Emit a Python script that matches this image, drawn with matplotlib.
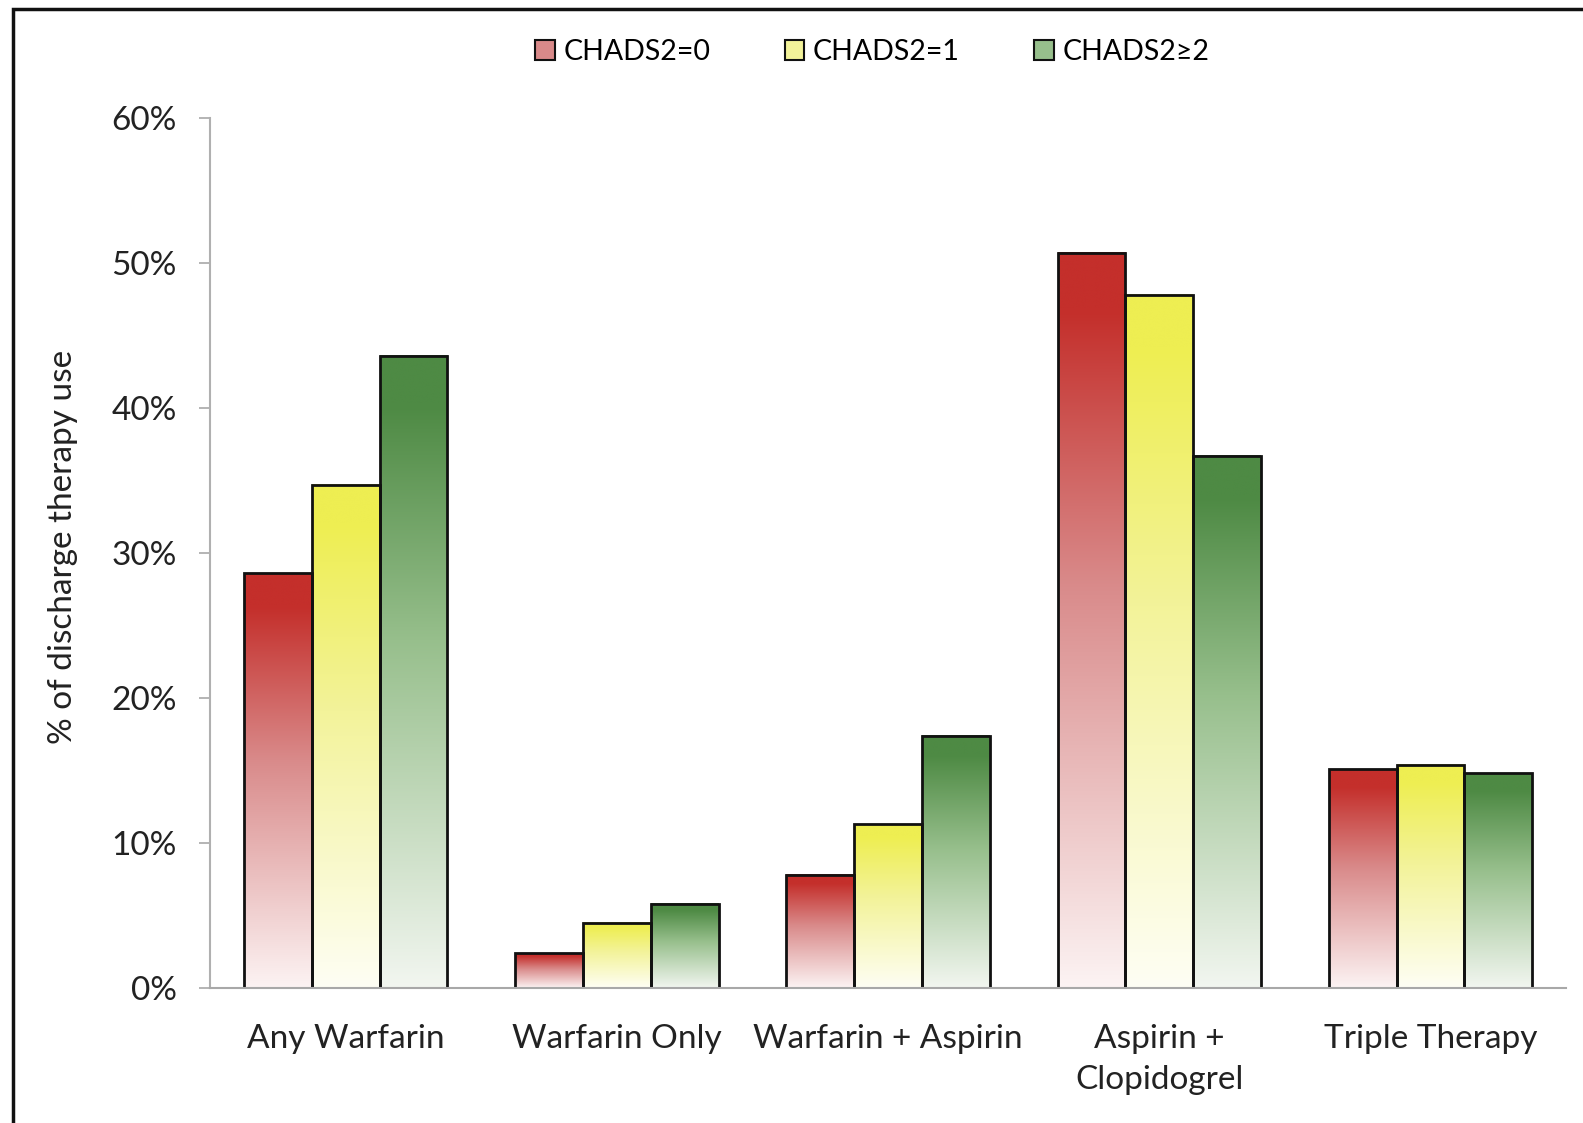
import numpy as np
import matplotlib
matplotlib.use("Agg")
from matplotlib import pyplot as plt
from matplotlib.colors import LinearSegmentedColormap
from matplotlib.patches import Patch, Rectangle

# therapy categories and % use per CHADS2 stratum
categories = ["Any Warfarin", "Warfarin Only", "Warfarin + Aspirin",
              "Aspirin +\nClopidogrel", "Triple Therapy"]
series_names = ["CHADS2=0", "CHADS2=1", "CHADS2\u22652"]
chads0 = [28.6, 2.4, 7.8, 50.7, 15.1]
chads1 = [34.7, 4.5, 11.3, 47.8, 15.4]
chads2 = [43.6, 5.8, 17.4, 36.7, 14.8]
yticks = [0, 10, 20, 30, 40, 50, 60]

top_colors = ["#c42f2b", "#eeee52", "#4e8a44"]
bottom_colors = ["#fcf3f3", "#fefef4", "#f2f6f0"]
mid_colors = ["#d98a8a", "#f3f39a", "#97bf8c"]

plt.rcParams['font.family'] = ['Lato', 'DejaVu Sans']

fig = plt.figure(figsize=(15.83, 11.23), dpi=100)
ax = fig.add_axes([0.1327, 0.1202, 0.8566, 0.7747])

x = np.arange(len(categories))
w = 0.25
data = [chads0, chads1, chads2]

grad = np.linspace(0, 1, 256).reshape(-1, 1)
for k, vals in enumerate(data):
    cmap = LinearSegmentedColormap.from_list(
        "g%d" % k, [(0, bottom_colors[k]), (0.55, mid_colors[k]),
                    (0.92, top_colors[k]), (1, top_colors[k])])
    for i, v in enumerate(vals):
        left = x[i] - 1.5 * w + k * w
        ax.imshow(grad, cmap=cmap, origin='lower', aspect='auto',
                  extent=(left, left + w, 0, v), interpolation='bicubic',
                  zorder=1)
    ax.bar(x - w + k * w, vals, width=w, facecolor='none',
           edgecolor='#111111', linewidth=2.0, zorder=2)

ax.set_xlim(-0.5, 4.5)
ax.set_ylim(0, 60)
ax.set_yticks(yticks)
ax.set_yticklabels(["%d%%" % t for t in yticks], fontsize=24, color='#222222')
ax.set_xticks(x)
ax.set_xticklabels(categories, fontsize=24, color='#222222', linespacing=1.45)
ax.tick_params(axis='x', length=0, pad=26)
ax.tick_params(axis='y', length=8, width=1.2, color='#a8a8a8', pad=16)

for s in ['top', 'right']:
    ax.spines[s].set_visible(False)
ax.spines['left'].set_color('#b0b0b0')
ax.spines['bottom'].set_color('#a8a8a8')
ax.spines['left'].set_linewidth(1.5)
ax.spines['bottom'].set_linewidth(1.5)

fig.text(0.04, 0.513, "% of discharge therapy use", rotation=90,
         ha='center', va='center', fontsize=24, color='#222222')

handles = [Patch(facecolor=mid_colors[k], edgecolor='#111111', linewidth=1.5)
           for k in range(3)]
fig.legend(handles, series_names, loc='center', bbox_to_anchor=(0.551, 0.954),
           ncol=3, frameon=False, fontsize=20.5, handlelength=0.7,
           handleheight=0.7, handletextpad=0.3, columnspacing=2.6)

# outer frame (only top and left edges fall inside the image)
fig.patches.append(Rectangle((13 / 1583, -0.1), 1.2, 1.1 - 9 / 1123,
                             transform=fig.transFigure, fill=False,
                             edgecolor='#111111', linewidth=2.5))

fig.savefig("out.png", dpi=100)
